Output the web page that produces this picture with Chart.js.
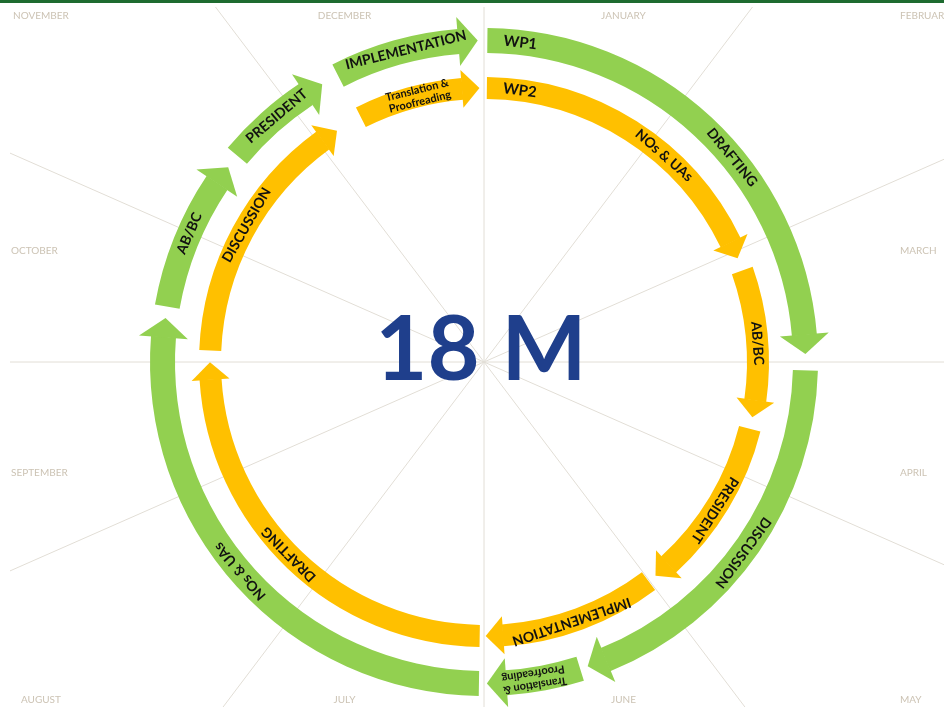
<!DOCTYPE html>
<html><head><meta charset="utf-8">
<style>
html,body{margin:0;padding:0;background:#fff;overflow:hidden}
#wrap{position:relative;width:944px;height:707px}
#topbar{position:absolute;left:0;top:0;width:944px;height:3px;background:#1E6B30}
canvas{display:block}
</style>
<script src="https://cdn.jsdelivr.net/npm/chart.js@4.4.1/dist/chart.umd.min.js"></script>
</head><body>
<div id="wrap"><canvas id="c" width="944" height="707"></canvas><div id="topbar"></div></div>
<script>
// ---- data (months on a 12-month clock, measured clockwise from the top) ----
const cycleLength = 12;
const months = ['JANUARY','FEBRUARY','MARCH','APRIL','MAY','JUNE','JULY','AUGUST','SEPTEMBER','OCTOBER','NOVEMBER','DECEMBER'];
const seriesNames = ['WP1','WP2'];
const centerText = '18 M';

const wp1Phases = ['DRAFTING','DISCUSSION','Translation & Proofreading','NOs & UAs','AB/BC','PRESIDENT','IMPLEMENTATION'];
const wp1Start  = [0.02, 3.05, 5.42, 6.03, 9.33, 10.33, 11.10];
const wp1End    = [2.84, 5.26, 5.87, 9.15, 10.13, 10.88, 11.85];

const wp2Phases = ['NOs & UAs','AB/BC','PRESIDENT','IMPLEMENTATION','DRAFTING','DISCUSSION','Translation & Proofreading'];
const wp2Start  = [0.02, 2.35, 3.47, 4.77, 6.03, 9.08, 11.11];
const wp2End    = [2.14, 3.27, 4.59, 5.87, 8.88, 10.80, 11.85];

// ---- styles ----
const GREEN = '#92D050', ORANGE = '#FFC000', CLEAR = 'rgba(0,0,0,0)';
const TEXT = '#111111';

function buildRing(phases, starts, ends) {
  const values = [], phaseIndex = [];
  let cur = 0;
  phases.forEach((p, i) => {
    if (starts[i] > cur) { values.push(starts[i] - cur); phaseIndex.push(-1); }
    values.push(ends[i] - starts[i]); phaseIndex.push(i);
    cur = ends[i];
  });
  if (cur < cycleLength) { values.push(cycleLength - cur); phaseIndex.push(-1); }
  return { values, phaseIndex };
}
const ring1 = buildRing(wp1Phases, wp1Start, wp1End);
const ring2 = buildRing(wp2Phases, wp2Start, wp2End);

const ringCfg = [
  { dataset: 0, ring: ring1, phases: wp1Phases, name: seriesNames[0], color: GREEN,  headLen: 19, headExt: 12 },
  { dataset: 2, ring: ring2, phases: wp2Phases, name: seriesNames[1], color: ORANGE, headLen: 17, headExt: 8 }
];

function centerOf(chart) {
  const el = chart.getDatasetMeta(0).data[0];
  return el.getProps(['x', 'y'], true);
}
const spow = (v, p) => Math.sign(v) * Math.pow(Math.abs(v), p);

// spokes + month labels behind the rings
const gridPlugin = {
  id: 'monthGrid',
  beforeDatasetsDraw(chart) {
    const ctx = chart.ctx;
    const { x: cx, y: cy } = centerOf(chart);
    const stretch = 1.31;
    ctx.save();
    ctx.beginPath(); ctx.rect(10, 7, chart.width - 10, chart.height - 7); ctx.clip();
    ctx.strokeStyle = '#E2DED6'; ctx.lineWidth = 1;
    months.forEach((m, k) => {
      const th = k / months.length * 2 * Math.PI;
      const dx = stretch * Math.sin(th), dy = -Math.cos(th);
      ctx.beginPath(); ctx.moveTo(cx, cy); ctx.lineTo(cx + dx * 2000, cy + dy * 2000); ctx.stroke();
    });
    ctx.restore();
    // labels
    ctx.save();
    ctx.font = '10px Lato';
    ctx.fillStyle = '#CCC3B4';
    ctx.textBaseline = 'middle'; ctx.textAlign = 'left';
    const rx = 660, ry = 512;
    months.forEach((m, k) => {
      const th = (k + 0.5) / months.length * 2 * Math.PI;
      const w = ctx.measureText(m).width;
      let lx = cx + rx * spow(Math.sin(th), 1.15) - w / 2;
      let ly = cy - ry * spow(Math.cos(th), 1.13);
      lx = Math.min(Math.max(lx, 11), 900);
      ly = Math.min(Math.max(ly, 16), 700);
      ctx.fillText(m, lx, ly);
    });
    ctx.restore();
  }
};

function rotText(ctx, x, y, r, a, lines, lh) {
  ctx.save();
  ctx.translate(x + r * Math.cos(a), y + r * Math.sin(a));
  ctx.rotate(a + Math.PI / 2);
  ctx.textAlign = 'center'; ctx.textBaseline = 'middle';
  ctx.fillStyle = TEXT;
  lines.forEach((t, k) => ctx.fillText(t, 0, (k - (lines.length - 1) / 2) * lh));
  ctx.restore();
}

// arrowheads + labels on top of the rings
const decorPlugin = {
  id: 'arrowDecor',
  afterDatasetsDraw(chart) {
    const ctx = chart.ctx;
    ringCfg.forEach(cfg => {
      const meta = chart.getDatasetMeta(cfg.dataset);
      let first = true;
      meta.data.forEach((el, i) => {
        const pi = cfg.ring.phaseIndex[i];
        if (pi < 0) return;
        const { x, y, startAngle, endAngle, innerRadius, outerRadius } =
          el.getProps(['x', 'y', 'startAngle', 'endAngle', 'innerRadius', 'outerRadius'], true);
        const rMid = (innerRadius + outerRadius) / 2;
        const a0 = endAngle - 0.6 / rMid;
        const aTip = endAngle + cfg.headLen / rMid;
        const P = (r, a) => [x + r * Math.cos(a), y + r * Math.sin(a)];
        ctx.save();
        ctx.fillStyle = cfg.color;
        ctx.beginPath();
        ctx.moveTo(...P(innerRadius - cfg.headExt, a0));
        ctx.lineTo(...P(outerRadius + cfg.headExt, a0));
        ctx.lineTo(...P(rMid, aTip));
        ctx.closePath(); ctx.fill();
        ctx.restore();

        let aStart = startAngle;
        if (first) {
          ctx.save(); ctx.font = 'bold 15px Lato';
          rotText(ctx, x, y, rMid, startAngle + 33 / rMid, [cfg.name], 15);
          ctx.restore();
          aStart = startAngle + 66 / rMid;
          first = false;
        }
        const label = cfg.phases[pi];
        const avail = (aTip - aStart) * rMid;
        ctx.save();
        ctx.font = 'bold 14px Lato';
        let lines = [label];
        if (ctx.measureText(label).width > avail && label.includes(' & ')) {
          const j = label.indexOf(' & ') + 2;
          lines = [label.slice(0, j), label.slice(j + 1)];
          ctx.font = 'bold 11px Lato';
        }
        rotText(ctx, x, y, rMid, (aStart + aTip) / 2, lines, 12);
        ctx.restore();
      });
    });
    // centre label
    const { x: cx, y: cy } = centerOf(chart);
    ctx.save();
    ctx.font = 'bold 90px Lato';
    ctx.fillStyle = '#1F3F8C';
    ctx.textAlign = 'center'; ctx.textBaseline = 'alphabetic';
    ctx.fillText(centerText, cx - 3, cy + 18);
    ctx.restore();
  }
};

new Chart(document.getElementById('c'), {
  type: 'doughnut',
  data: {
    datasets: [
      { label: seriesNames[0], data: ring1.values, weight: 25, borderWidth: 0,
        backgroundColor: ring1.phaseIndex.map(i => i < 0 ? CLEAR : GREEN) },
      { label: 'spacer', data: [cycleLength], weight: 24, borderWidth: 0, backgroundColor: [CLEAR] },
      { label: seriesNames[1], data: ring2.values, weight: 22, borderWidth: 0,
        backgroundColor: ring2.phaseIndex.map(i => i < 0 ? CLEAR : ORANGE) }
    ]
  },
  options: {
    responsive: false,
    animation: false,
    devicePixelRatio: 1,
    events: [],
    radius: 334,
    cutout: (263 / 334 * 100) + '%',
    rotation: 0,
    circumference: 360,
    layout: { padding: { left: 24, top: 28, right: 0, bottom: 11 } },
    plugins: { legend: { display: false }, tooltip: { enabled: false } }
  },
  plugins: [gridPlugin, decorPlugin]
});
</script>
</body></html>
